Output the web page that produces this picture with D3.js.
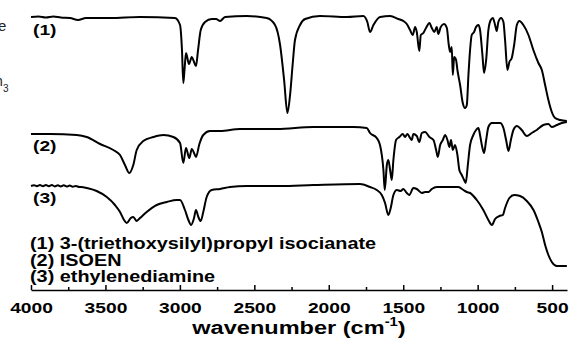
<!DOCTYPE html>
<html>
<head>
<meta charset="utf-8">
<script src="https://cdn.jsdelivr.net/npm/d3@7/dist/d3.min.js"></script>
<style>
  html, body { margin: 0; padding: 0; background: #fff; }
  svg { display: block; }
  text { font-family: "Liberation Sans", Arial, sans-serif; font-weight: bold; fill: #000; }
</style>
</head>
<body>
<div id="chart"></div>
<script>
// wavenumber (cm-1), offset transmittance (a.u.)
const isocyanate = [
  [4000, 273], [3950, 273.5], [3900, 272.5], [3850, 273.5], [3800, 272.5], [3738, 272], [3684, 270], [3631, 272],
  [3469, 272], [3268, 273], [3033, 272], [2999, 265], [2986, 240], [2977, 207], [2969, 220],
  [2959, 237], [2939, 226], [2920, 233], [2905, 228], [2892, 224], [2878, 240], [2860, 260],
  [2831, 268], [2786, 271], [2757, 271], [2730, 269], [2697, 273], [2551, 274], [2417, 272],
  [2361, 265], [2327, 245], [2300, 210], [2278, 177], [2260, 195], [2243, 225], [2227, 250],
  [2193, 265], [2159, 271], [2059, 274], [1879, 273], [1768, 274], [1741, 268], [1723, 258],
  [1700, 265], [1655, 273], [1588, 274], [1533, 271], [1499, 269], [1476, 266], [1454, 260],
  [1436, 255], [1420, 263], [1409, 258], [1392, 239], [1382, 255], [1365, 257], [1347, 262],
  [1324, 267], [1308, 262], [1291, 258], [1275, 263], [1264, 256], [1248, 263], [1226, 266],
  [1207, 262], [1194, 245], [1185, 238], [1174, 243], [1167, 215], [1158, 233], [1145, 230],
  [1136, 220], [1118, 205], [1100, 187], [1085, 182], [1073, 185], [1062, 215], [1051, 240],
  [1040, 255], [1024, 258], [1011, 263], [995, 265], [984, 260], [968, 235], [957, 217],
  [943, 230], [928, 260], [912, 270], [898, 272], [883, 265], [872, 259], [861, 268],
  [843, 272], [827, 268], [816, 250], [800, 220], [787, 228], [771, 232], [755, 245],
  [737, 265], [720, 269], [693, 265], [659, 255], [626, 240], [592, 227], [569, 220],
  [547, 205], [525, 190], [502, 178], [480, 172], [446, 170], [401, 169]
];

const isoen = [
  [4000, 156], [3872, 156], [3693, 155], [3626, 153], [3536, 146], [3447, 140], [3402, 135],
  [3369, 125], [3340, 117], [3313, 125], [3290, 140], [3246, 149], [3178, 153], [3111, 155],
  [3044, 153], [2999, 147], [2977, 127], [2959, 142], [2937, 132], [2920, 141], [2905, 137],
  [2892, 133], [2869, 146], [2843, 155], [2798, 159], [2730, 159], [2596, 161], [2349, 161],
  [2104, 163], [1835, 163], [1745, 162], [1723, 157], [1678, 152], [1656, 145], [1633, 120],
  [1624, 100], [1610, 125], [1600, 130], [1588, 120], [1577, 110], [1566, 130], [1548, 150],
  [1526, 153], [1503, 156], [1488, 153], [1472, 156], [1454, 152], [1443, 150], [1432, 156],
  [1409, 154], [1392, 148], [1375, 157], [1353, 158], [1324, 153], [1297, 150], [1279, 140],
  [1268, 133], [1252, 145], [1234, 150], [1219, 155], [1203, 150], [1190, 143], [1179, 150],
  [1167, 140], [1152, 145], [1136, 135], [1123, 120], [1107, 115], [1091, 110], [1080, 107],
  [1066, 125], [1051, 145], [1029, 155], [1011, 160], [995, 162], [984, 155], [972, 145],
  [957, 137], [943, 150], [928, 163], [905, 167], [849, 167], [827, 162], [809, 150],
  [793, 139], [777, 150], [760, 160], [737, 164], [704, 160], [670, 154], [637, 157],
  [603, 160], [559, 165], [525, 166], [502, 163], [468, 165], [435, 167], [401, 168]
];

const ethylenediamine = [
  [4000, 104], [3980, 104.8], [3960, 103.8], [3940, 104.9], [3920, 103.7], [3900, 105], [3880, 103.8],
  [3860, 104.9], [3840, 103.6], [3820, 104.8], [3800, 103.5], [3780, 104.7], [3760, 103.4], [3740, 104.4],
  [3720, 103.2], [3700, 104], [3675, 103], [3650, 102.8], [3626, 102], [3559, 99], [3491, 93], [3436, 85], [3402, 78],
  [3375, 70], [3357, 67], [3330, 72], [3313, 73], [3290, 69], [3268, 72], [3223, 78],
  [3156, 85], [3088, 88], [3021, 90], [2999, 90], [2966, 80], [2943, 70], [2925, 65],
  [2905, 72], [2892, 80], [2876, 73], [2860, 69], [2843, 78], [2820, 93], [2786, 100],
  [2730, 101], [2663, 103], [2551, 104], [2327, 104], [2104, 105], [1790, 106], [1723, 103],
  [1678, 100], [1644, 95], [1622, 87], [1600, 75], [1584, 82], [1566, 95], [1543, 100],
  [1517, 99], [1499, 101], [1476, 97], [1459, 95], [1432, 102], [1409, 101], [1375, 97],
  [1353, 98], [1331, 98], [1308, 101], [1275, 103], [1207, 103], [1129, 103], [1096, 100],
  [1073, 98], [1051, 97], [1006, 90], [962, 80], [928, 70], [905, 65], [883, 71],
  [854, 74], [831, 75], [816, 82], [787, 92], [755, 95], [715, 94], [670, 89],
  [625, 80], [592, 68], [569, 58], [547, 45], [525, 35], [502, 28], [468, 24], [401, 24]
];

const majorTicks = [4000, 3500, 3000, 2500, 2000, 1500, 1000, 500];
const minorTicks = [3750, 3250, 2750, 2250, 1750, 1250, 750];
const traceLabels = ["(1)", "(2)", "(3)"];
const legendLines = [
  "(1) 3-(triethoxysilyl)propyl isocianate",
  "(2) ISOEN",
  "(3) ethylenediamine"
];

const width = 569, height = 341;
const xRange = [31, 567], axisY = 290;
const stretch = 1.24; // text in the source figure is horizontally stretched

const svg = d3.select("#chart").append("svg")
  .attr("width", width)
  .attr("height", height);

const x = d3.scaleLinear().domain([4000, 400]).range(xRange);
const y = d3.scaleLinear().domain([0, 280]).range([axisY, 10]);

const line = d3.line()
  .curve(d3.curveMonotoneX)
  .x(d => x(d[0]))
  .y(d => y(d[1]));

[isocyanate, isoen, ethylenediamine].forEach(s => {
  svg.append("path")
    .datum(s)
    .attr("fill", "none")
    .attr("stroke", "#000")
    .attr("stroke-width", 2)
    .attr("stroke-linejoin", "round")
    .attr("d", line);
});

// x axis, ticks pointing up into the plot
svg.append("g")
  .attr("transform", `translate(0,${axisY})`)
  .call(d3.axisBottom(x).tickValues(majorTicks).tickFormat(d3.format("d"))
    .tickSize(-5).tickSizeOuter(0).tickPadding(12))
  .call(g => g.select(".domain").attr("stroke-width", 1.5))
  .call(g => g.selectAll(".tick line").attr("stroke-width", 1.5))
  .call(g => g.selectAll(".tick text")
    .attr("font-size", 15.5)
    .attr("font-family", null)
    .attr("transform", `scale(${stretch},1)`));

svg.append("g")
  .attr("transform", `translate(0,${axisY})`)
  .call(d3.axisBottom(x).tickValues(minorTicks).tickSize(-3).tickSizeOuter(0).tickFormat(""))
  .call(g => g.select(".domain").remove())
  .call(g => g.selectAll(".tick line").attr("stroke-width", 1.5));

// axis title
const title = svg.append("text")
  .attr("transform", `translate(${(xRange[0] + xRange[1]) / 2},334) scale(${stretch},1)`)
  .attr("text-anchor", "middle")
  .attr("font-size", 19);
title.append("tspan").text("wavenumber (cm");
title.append("tspan").attr("font-size", 12).attr("dy", -8).text("-1");
title.append("tspan").attr("dy", 8).text(")");

// trace labels
const labelY = [34.5, 151, 203];
traceLabels.forEach((t, i) => {
  svg.append("text")
    .attr("transform", `translate(33,${labelY[i]}) scale(${stretch},1)`)
    .attr("font-size", 15.5)
    .text(t);
});

// legend
legendLines.forEach((t, i) => {
  svg.append("text")
    .attr("transform", `translate(30,${249 + i * 16.5}) scale(${stretch},1)`)
    .attr("font-size", 16)
    .text(t);
});

// fragments of neighbouring text cut off at the left edge
svg.append("text")
  .attr("x", -2).attr("y", 31)
  .attr("font-size", 15)
  .style("font-weight", "normal").style("fill", "#222")
  .text("e");
svg.append("text")
  .attr("x", -5).attr("y", 86)
  .attr("font-size", 14)
  .style("font-weight", "normal").style("fill", "#222")
  .text("h");
svg.append("text")
  .attr("x", 3).attr("y", 92)
  .attr("font-size", 10)
  .style("font-weight", "normal").style("fill", "#222")
  .text("3");
</script>
</body>
</html>
